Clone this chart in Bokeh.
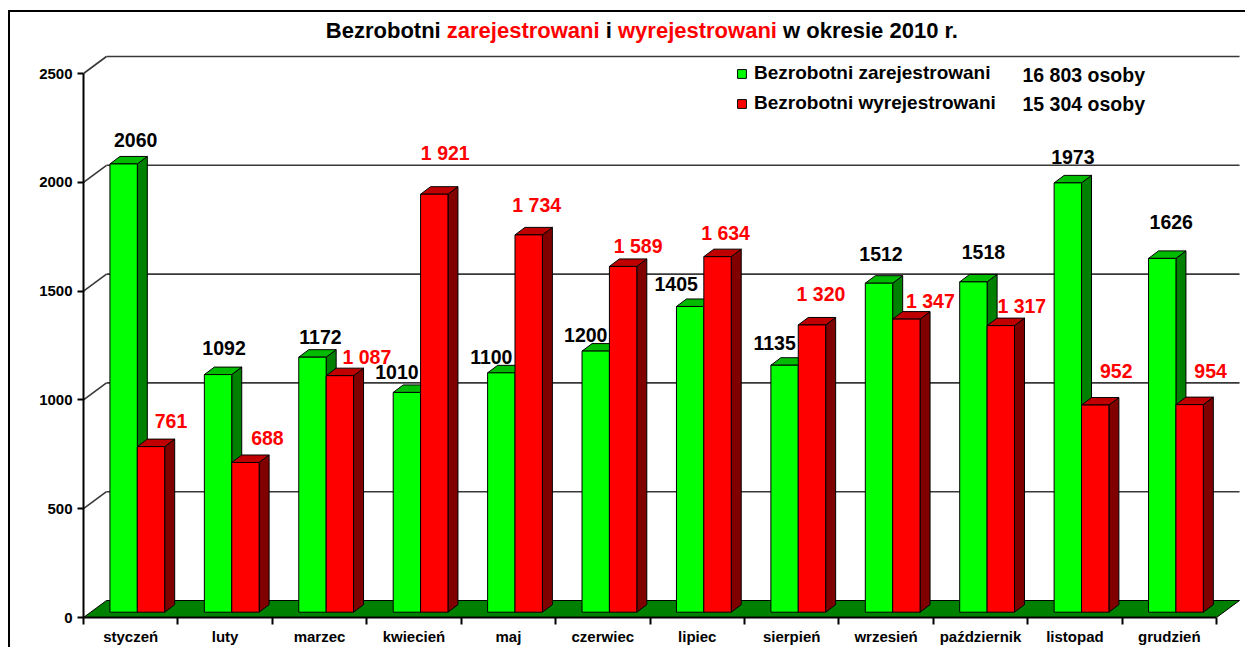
from bokeh.plotting import figure
from bokeh.models import Range1d, FixedTicker, ColumnDataSource, Legend, LegendItem, Label
from bokeh.core.properties import value
from bokeh.embed import file_html
from bokeh.resources import INLINE

# ---------------- data ----------------
months = ["styczeń", "luty", "marzec", "kwiecień", "maj", "czerwiec", "lipiec",
          "sierpień", "wrzesień", "październik", "listopad", "grudzień"]
registered = [2060, 1092, 1172, 1010, 1100, 1200, 1405, 1135, 1512, 1518, 1973, 1626]
deregistered = [761, 688, 1087, 1921, 1734, 1589, 1634, 1320, 1347, 1317, 952, 954]
series_names = ["Bezrobotni zarejestrowani", "Bezrobotni wyrejestrowani"]
series_totals = ["16 803 osoby", "15 304 osoby"]
y_ticks = [0, 500, 1000, 1500, 2000, 2500]
title_parts = ["Bezrobotni", "zarejestrowani", "i", "wyrejestrowani", "w okresie 2010 r."]
title_colors = ["black", "red", "black", "red", "black"]

# manual label nudges in screen px (dx right, dy above bar top)
reg_label_dx = [12, 6, 8, -10, -10, -10, -14, -10, 2, 10, 5, 9]
reg_label_dy = [24, 27, 20, 20, 16, 16, 22, 22, 29, 30, 26, 36]
der_label_dx = [20, 22, 27, 11, 8, 15, 8, 9, 24, 21, 21, 21]
der_label_dy = [26, 24, 19, 41, 30, 20, 24, 31, 18, 20, 34, 34]

# ---------------- layout (page px) ----------------
OX, OY = 10, 12                  # content origin after margin + border
F_LEFT, F_TOP, F_BOTTOM, F_RIGHT = 83, 14, 617, 1241
FW, FH = F_RIGHT - F_LEFT, F_BOTTOM - F_TOP
PX_CAT = 94.42      # px per category
PX_UNIT = 0.2176    # px per value unit
FONT = value("Liberation Sans")


def dx(px):
    return px / PX_CAT


def dy(px):
    return px / PX_UNIT


WALL_X, WALL_Y = dx(23), dy(17)
BASE = dy(5.3)
DEP_X, DEP_Y = dx(10), dy(7.5)
n = len(months)

p = figure(frame_width=FW, frame_height=FH, output_backend="svg", toolbar_location=None,
           x_range=Range1d(0, FW / PX_CAT), y_range=Range1d(0, FH / PX_UNIT),
           min_border_left=F_LEFT - OX, min_border_right=4,
           min_border_top=F_TOP - OY, min_border_bottom=28)
p.outline_line_color = None
p.xgrid.visible = False
p.ygrid.visible = False
p.background_fill_color = "white"
p.border_fill_color = "white"
p.styles = {"margin-left": "8px", "margin-top": "10px",
            "border-top": "2px solid black", "border-left": "2px solid black"}

# floor
p.patch([0, n, n + WALL_X, WALL_X], [0, 0, WALL_Y, WALL_Y],
        fill_color="#008000", line_color="black", line_width=1)

# back wall gridlines and left wall diagonals
grid_vals = [v for v in y_ticks if v > 0]
p.segment(x0=[WALL_X] * len(grid_vals), y0=[v + WALL_Y for v in grid_vals],
          x1=[n + WALL_X] * len(grid_vals), y1=[v + WALL_Y for v in grid_vals],
          line_color="#383838", line_width=1.6)
p.segment(x0=[0] * len(grid_vals), y0=grid_vals,
          x1=[WALL_X] * len(grid_vals), y1=[v + WALL_Y for v in grid_vals],
          line_color="#383838", line_width=1.6)


def draw_bars(vals, left_off, right_off, front, side, top):
    lefts = [i + left_off for i in range(n)]
    rights = [i + right_off for i in range(n)]
    tops = [BASE + v for v in vals]
    side_xs = [[r, r + DEP_X, r + DEP_X, r] for r in rights]
    side_ys = [[BASE, BASE + DEP_Y, t + DEP_Y, t] for t in tops]
    top_xs = [[l, r, r + DEP_X, l + DEP_X] for l, r in zip(lefts, rights)]
    top_ys = [[t, t, t + DEP_Y, t + DEP_Y] for t in tops]
    p.patches(side_xs, side_ys, fill_color=side, line_color="black", line_width=1)
    p.patches(top_xs, top_ys, fill_color=top, line_color="black", line_width=1)
    r = p.quad(left=lefts, right=rights, bottom=[BASE] * n, top=tops,
               fill_color=front, line_color="black", line_width=1)
    return r, lefts, rights, tops


g_r, g_l, g_rt, g_t = draw_bars(registered, 0.28, 0.57, "#00FF00", "#008000", "#00BB00")
r_r, r_l, r_rt, r_t = draw_bars(deregistered, 0.57, 0.86, "#FF0000", "#800000", "#C00000")

# data labels
g_src = ColumnDataSource(dict(
    x=[(a + b) / 2 for a, b in zip(g_l, g_rt)], y=g_t,
    t=[str(v) for v in registered],
    xo=reg_label_dx, yo=[-d for d in reg_label_dy]))
p.text(x="x", y="y", text="t", x_offset="xo", y_offset="yo", source=g_src,
       text_font=FONT, text_font_style="bold", text_font_size="19.5px",
       text_align="center", text_baseline="middle", text_color="black")
r_src = ColumnDataSource(dict(
    x=[(a + b) / 2 for a, b in zip(r_l, r_rt)], y=r_t,
    t=[f"{v:,}".replace(",", " ") for v in deregistered],
    xo=der_label_dx, yo=[-d for d in der_label_dy]))
p.text(x="x", y="y", text="t", x_offset="xo", y_offset="yo", source=r_src,
       text_font=FONT, text_font_style="bold", text_font_size="19.5px",
       text_align="center", text_baseline="middle", text_color="red")

# axes
p.yaxis.ticker = FixedTicker(ticks=y_ticks)
p.yaxis.bounds = (0, y_ticks[-1])
p.yaxis.axis_line_width = 2
p.yaxis.major_tick_out = 6
p.yaxis.major_tick_in = 0
p.yaxis.major_tick_line_width = 2
p.yaxis.minor_tick_line_color = None
p.yaxis.major_label_standoff = 5
p.yaxis.major_label_text_font = "Liberation Sans"
p.yaxis.major_label_text_font_style = "bold"
p.yaxis.major_label_text_font_size = "15px"
p.yaxis.major_label_text_color = "black"

centers = [i + 0.5 for i in range(n)]
p.xaxis.ticker = FixedTicker(ticks=centers, minor_ticks=list(range(n + 1)))
p.xaxis.major_label_overrides = {c: m for c, m in zip(centers, months)}
p.xaxis.bounds = (0, n)
p.xaxis.axis_line_width = 2
p.xaxis.major_tick_line_color = None
p.xaxis.major_tick_out = 0
p.xaxis.major_tick_in = 0
p.xaxis.minor_tick_out = 7
p.xaxis.minor_tick_in = 0
p.xaxis.minor_tick_line_width = 2
p.xaxis.minor_tick_line_color = "black"
p.xaxis.major_label_standoff = 3
p.xaxis.major_label_text_font = "Liberation Sans"
p.xaxis.major_label_text_font_style = "bold"
p.xaxis.major_label_text_font_size = "15px"
p.xaxis.major_label_text_color = "black"

# legend
legend = Legend(items=[LegendItem(label=series_names[0], renderers=[g_r]),
                       LegendItem(label=series_names[1], renderers=[r_r])],
                location=(653, 503), glyph_width=11, glyph_height=11,
                label_standoff=7, label_height=22, spacing=8, padding=8, margin=0,
                label_text_font="Liberation Sans", label_text_font_style="bold",
                label_text_font_size="19px", label_text_color="black",
                border_line_color=None,
                background_fill_color="white", background_fill_alpha=1.0)
p.add_layout(legend)

for k, txt in enumerate(series_totals):
    p.add_layout(Label(x=dx(1022 - F_LEFT), y=dy(F_BOTTOM - 74 - 29 * k), text=txt,
                       text_font="Liberation Sans", text_font_style="bold",
                       text_color="black",
                       text_font_size="19.5px", text_baseline="middle", text_align="left"))

# title (mixed colours) using Arial/Liberation Sans Bold advance widths
AW = {' ': 278, '.': 278, 'B': 722, 'a': 556, 'b': 611, 'c': 556, 'd': 611, 'e': 556,
      'i': 278, 'j': 278, 'k': 556, 'n': 611, 'o': 611, 'r': 389, 's': 556, 't': 333,
      'w': 778, 'y': 556, 'z': 500}
for ch in "0123456789":
    AW[ch] = 556
TF = 22


def tw(s):
    return sum(AW.get(c, 556) for c in s) * TF / 1000.0


total = sum(tw(s) for s in title_parts) + tw(" ") * (len(title_parts) - 1)
xpos = (642 - F_LEFT) - total / 2
for txt, col in zip(title_parts, title_colors):
    p.add_layout(Label(x=dx(xpos), y=dy(F_BOTTOM - 30), text=txt, text_color=col,
                       text_font="Liberation Sans", text_font_style="bold",
                       text_font_size=f"{TF}px", text_baseline="middle", text_align="left"))
    xpos += tw(txt) + tw(" ")

open("out.html", "w").write(file_html(p, INLINE))
